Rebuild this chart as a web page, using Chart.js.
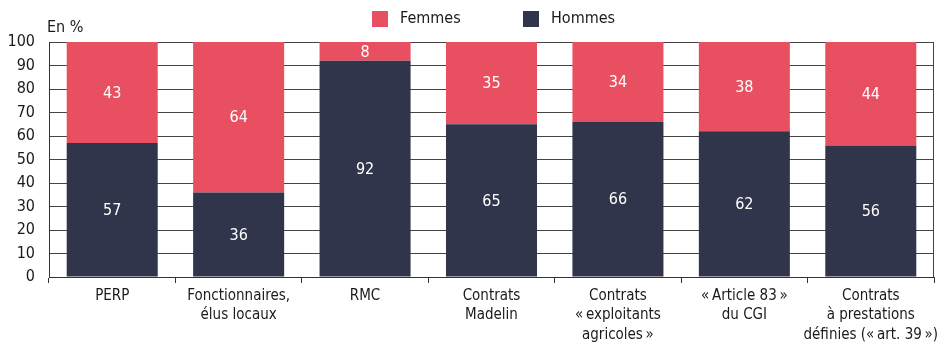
<!DOCTYPE html>
<html>
<head>
<meta charset="utf-8">
<script src="https://cdn.jsdelivr.net/npm/chart.js@4/dist/chart.umd.min.js"></script>
<style>
  html, body { margin: 0; padding: 0; background: #fff; }
  #wrap { width: 937px; height: 345px; position: relative; }
</style>
</head>
<body>
<div id="wrap"><canvas id="myChart"></canvas></div>
<script>
// régimes de retraite supplémentaire, répartition par sexe
const categories = [
    'PERP',
    ['Fonctionnaires,', 'élus locaux'],
    'RMC',
    ['Contrats', 'Madelin'],
    ['Contrats', '«\u202Fexploitants', 'agricoles\u202F»'],
    ['«\u202FArticle 83\u202F»', 'du CGI'],
    ['Contrats', 'à prestations', 'définies («\u202Fart. 39\u202F»)']
]
const hommes = [57, 36, 92, 65, 66, 62, 56]
const femmes = [43, 64, 8, 35, 34, 38, 44]
const yTicks = [0, 10, 20, 30, 40, 50, 60, 70, 80, 90, 100]

const police = "'DejaVu Sans Condensed', 'Liberation Sans Narrow', sans-serif"
const rouge = '#e85062'
const marine = '#30354b'
const texte = '#1a1a1a'

// valeurs écrites au milieu de chaque segment, légende et unité
const decor = {
    id: 'decor',
    afterDatasetsDraw(chart) {
        const ctx = chart.ctx
        ctx.save()
        ctx.fillStyle = '#fff'
        ctx.font = '16px ' + police
        ctx.textAlign = 'center'
        ctx.textBaseline = 'middle'
        chart.data.datasets.forEach((ds, i) => {
            chart.getDatasetMeta(i).data.forEach((bar, j) => {
                const y = (bar.y + bar.base) / 2 + 1
                ctx.fillText(ds.data[j], bar.x, y)
            })
        })
        ctx.restore()
    },
    afterDraw(chart) {
        const ctx = chart.ctx
        const a = chart.chartArea
        ctx.save()
        // bord droit du cadre
        ctx.strokeStyle = '#444'
        ctx.lineWidth = 1
        ctx.beginPath()
        ctx.moveTo(a.right - 0.5, a.top)
        ctx.lineTo(a.right - 0.5, a.bottom)
        ctx.stroke()

        ctx.font = '16px ' + police
        ctx.textBaseline = 'middle'
        ctx.textAlign = 'left'
        ctx.fillStyle = texte
        ctx.fillText('En %', 47, 28)

        // légende : Femmes puis Hommes
        const items = [
            { nom: chart.data.datasets[1].label, couleur: rouge, x: 372 },
            { nom: chart.data.datasets[0].label, couleur: marine, x: 523 }
        ]
        items.forEach(it => {
            ctx.fillStyle = it.couleur
            ctx.fillRect(it.x, 11, 16, 16)
            ctx.fillStyle = texte
            ctx.fillText(it.nom, it.x + 28, 19)
        })
        ctx.restore()
    }
}

const ctx = document.getElementById('myChart')
const myChart = new Chart(ctx, {
    type: 'bar',
    data: {
        labels: categories,
        datasets: [
            { label: 'Hommes', data: hommes, backgroundColor: marine },
            { label: 'Femmes', data: femmes, backgroundColor: rouge }
        ]
    },
    options: {
        responsive: true,
        maintainAspectRatio: false,
        animation: false,
        datasets: {
            bar: { barPercentage: 0.72, categoryPercentage: 1 }
        },
        layout: { padding: { left: 4, right: 3, top: 42, bottom: 0 } },
        plugins: {
            legend: { display: false },
            tooltip: { enabled: false }
        },
        scales: {
            x: {
                stacked: true,
                afterFit(scale) {
                    scale.paddingLeft = 0
                    scale.paddingRight = 0
                    scale.height = 68
                },
                border: { color: '#333', width: 1 },
                grid: {
                    drawOnChartArea: false,
                    drawTicks: true,
                    tickLength: 6,
                    color: '#333',
                    offset: true
                },
                ticks: {
                    color: texte,
                    font: { family: police, size: 15, lineHeight: 1.27 },
                    maxRotation: 0,
                    autoSkip: false,
                    padding: 4
                }
            },
            y: {
                stacked: true,
                min: 0,
                max: 100,
                afterBuildTicks(axis) {
                    axis.ticks = yTicks.map(v => ({ value: v }))
                },
                afterFit(scale) {
                    scale.width = 45
                },
                border: { color: '#333', width: 1 },
                grid: {
                    color: '#444',
                    lineWidth: 1,
                    drawTicks: false
                },
                ticks: {
                    color: texte,
                    font: { family: police, size: 16 },
                    padding: 14
                }
            }
        }
    },
    plugins: [decor]
})
</script>
</body>
</html>
